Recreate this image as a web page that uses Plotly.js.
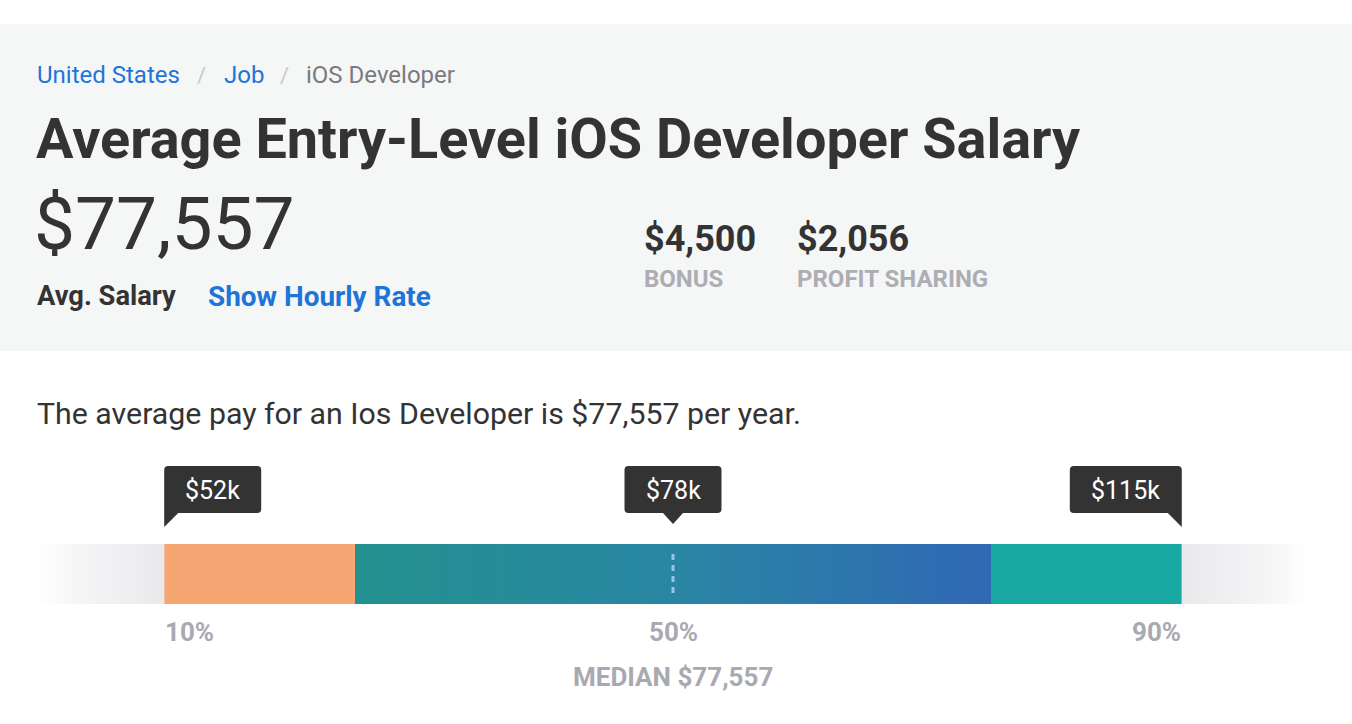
<!DOCTYPE html>
<html>
<head>
<meta charset="utf-8">
<script src="https://cdn.plot.ly/plotly-3.0.1.min.js"></script>
<style>
  html, body { margin: 0; padding: 0; background: #ffffff; }
  #chart { width: 1352px; height: 724px; }
</style>
</head>
<body>
<div id="chart"></div>
<script>
// ---------------- DATA ----------------
const breadcrumb = ['United States', 'Job', 'iOS Developer'];
const jobTitle = 'Average Entry-Level iOS Developer Salary';
const avgSalary = '$77,557';
const avgSalaryLabel = 'Avg. Salary';
const hourlyLink = 'Show Hourly Rate';
const payValues = ['$4,500', '$2,056'];
const payLabels = ['BONUS', 'PROFIT SHARING'];
const summary = 'The average pay for an Ios Developer is $77,557 per year.';

const percentiles = [10, 50, 90];
const percentileLabels = ['10%', '50%', '90%'];
const salaryLabels = ['$52k', '$78k', '$115k'];
const segmentStart = [10, 25, 75];
const segmentEnd = [25, 75, 90];
const fadeLeft = [0, 10];
const fadeRight = [90, 100];
const medianLabel = 'MEDIAN $77,557';

// ---------------- LAYOUT HELPERS ----------------
const W = 1352, H = 724;
const px = v => v / W;               // pixel -> paper x
const FONT = 'Roboto, "Open Sans", sans-serif';
const DARK = '#333333';
const GREY = '#a9a9b1';
const BLUE = '#1f74d8';

function rect(x0, x1) { return { x: [x0, x1, x1, x0, x0], y: [0, 0, 1, 1, 0] }; }

const traces = [];

// left fade
(function () {
  const r = rect(fadeLeft[0], fadeLeft[1]);
  traces.push({
    type: 'scatter', mode: 'lines', x: r.x, y: r.y, xaxis: 'x', yaxis: 'y2',
    fill: 'toself', line: { width: 0 }, hoverinfo: 'skip', showlegend: false,
    fillgradient: { type: 'horizontal', colorscale: [[0, 'rgba(236,236,239,0)'], [0.35, 'rgba(236,236,239,0.55)'], [1, 'rgba(233,233,236,1)']] }
  });
})();
// right fade
(function () {
  const r = rect(fadeRight[0], fadeRight[1]);
  traces.push({
    type: 'scatter', mode: 'lines', x: r.x, y: r.y, xaxis: 'x', yaxis: 'y2',
    fill: 'toself', line: { width: 0 }, hoverinfo: 'skip', showlegend: false,
    fillgradient: { type: 'horizontal', colorscale: [[0, 'rgba(233,233,236,1)'], [0.65, 'rgba(236,236,239,0.55)'], [1, 'rgba(236,236,239,0)']] }
  });
})();
// flat segments (10-25, 75-90)
const flatIdx = [0, 2];
traces.push({
  type: 'bar', orientation: 'h', xaxis: 'x', yaxis: 'y2',
  y: flatIdx.map(() => 0.5),
  base: flatIdx.map(i => segmentStart[i]),
  x: flatIdx.map(i => segmentEnd[i] - segmentStart[i]),
  width: 1,
  marker: { color: ['#f6a673', '#1aa9a2'], line: { width: 0 } },
  hoverinfo: 'skip', showlegend: false
});
// middle gradient segment (25-75)
(function () {
  const r = rect(segmentStart[1], segmentEnd[1]);
  traces.push({
    type: 'scatter', mode: 'lines', x: r.x, y: r.y, xaxis: 'x', yaxis: 'y2',
    fill: 'toself', line: { width: 0 }, hoverinfo: 'skip', showlegend: false,
    fillgradient: { type: 'horizontal', colorscale: [[0, '#23918f'], [0.5, '#2986a3'], [1, '#3068b4']] }
  });
})();

// ---------------- SHAPES ----------------
const shapes = [];
// header background
shapes.push({ type: 'rect', xref: 'paper', yref: 'y', x0: 0, x1: 1, y0: 24, y1: 351,
  fillcolor: '#f5f6f6', line: { width: 0 }, layer: 'below' });
// median dashed line
shapes.push({ type: 'line', xref: 'x', yref: 'y2', x0: percentiles[1], x1: percentiles[1], y0: 0.183, y1: 0.85,
  line: { color: '#93c5e8', width: 3, dash: '6px,5px' } });

// tooltip bubbles (pixel paths relative to percentile anchors)
const bubblePaths = [
  'M 4,466 H 93 Q 97,466 97,470 V 509 Q 97,513 93,513 H 14 L 0,527 V 470 Q 0,466 4,466 Z',
  'M -44.5,466 H 44.5 Q 48.5,466 48.5,470 V 509 Q 48.5,513 44.5,513 H 10 L 0,524 L -10,513 H -44.5 Q -48.5,513 -48.5,509 V 470 Q -48.5,466 -44.5,466 Z',
  'M -108,466 H -4 Q 0,466 0,470 V 527 L -14,513 H -108 Q -112,513 -112,509 V 470 Q -112,466 -108,466 Z'
];
const bubbleCenter = [48.5, 0, -56];
percentiles.forEach((p, i) => {
  shapes.push({ type: 'path', xref: 'x', yref: 'y', xsizemode: 'pixel', xanchor: p,
    path: bubblePaths[i], fillcolor: '#333333', line: { width: 0 } });
});

// ---------------- ANNOTATIONS ----------------
const ann = [];
function txt(o) {
  return Object.assign({ showarrow: false, borderpad: 0, yref: 'y', yanchor: 'middle', xanchor: 'left' }, o);
}
// breadcrumb
const crumbX = [36, 223, 305];
const crumbColor = [BLUE, BLUE, '#7a7a7f'];
breadcrumb.forEach((b, i) => {
  ann.push(txt({ xref: 'paper', x: px(crumbX[i]), y: 75, text: b,
    font: { family: FONT, size: 24, color: crumbColor[i] } }));
});
[201, 284].forEach(x => ann.push(txt({ xref: 'paper', x: px(x), xanchor: 'center', y: 75, text: '/',
  font: { family: FONT, size: 22, color: '#c9c9cd' } })));
// title
ann.push(txt({ xref: 'paper', x: px(35), y: 139, text: jobTitle,
  font: { family: FONT, size: 55.8, color: DARK, weight: 700 } }));
// big salary
ann.push(txt({ xref: 'paper', x: px(33), y: 224, text: avgSalary,
  font: { family: FONT, size: 73, color: DARK, weight: 400 } }));
ann.push(txt({ xref: 'paper', x: px(36), y: 296, text: avgSalaryLabel,
  font: { family: FONT, size: 27.3, color: DARK, weight: 700 } }));
ann.push(txt({ xref: 'paper', x: px(207), y: 296, text: hourlyLink,
  font: { family: FONT, size: 27.9, color: BLUE, weight: 700 } }));
// bonus / profit sharing
const payX = [643, 796];
payValues.forEach((v, i) => {
  ann.push(txt({ xref: 'paper', x: px(payX[i]), y: 239, text: v,
    font: { family: FONT, size: 36, color: DARK, weight: 700 } }));
  ann.push(txt({ xref: 'paper', x: px(payX[i]), y: 279, text: payLabels[i],
    font: { family: FONT, size: 24, color: '#aeadb3', weight: 700 } }));
});
// summary sentence
ann.push(txt({ xref: 'paper', x: px(36), y: 413, text: summary,
  font: { family: FONT, size: 30.3, color: DARK, weight: 400 } }));
// tooltip labels
percentiles.forEach((p, i) => {
  ann.push(txt({ xref: 'x', x: p, xanchor: 'center', xshift: bubbleCenter[i], y: 490, text: salaryLabels[i],
    font: { family: FONT, size: 25, color: '#ffffff' } }));
});
// percentile labels
const pAnchor = ['left', 'center', 'right'];
percentiles.forEach((p, i) => {
  ann.push(txt({ xref: 'x', x: p, xanchor: pAnchor[i], y: 632, text: percentileLabels[i],
    font: { family: FONT, size: 26, color: GREY, weight: 700 } }));
});
ann.push(txt({ xref: 'x', x: percentiles[1], xanchor: 'center', y: 677, text: medianLabel,
  font: { family: FONT, size: 26, color: GREY, weight: 700 } }));

const layout = {
  width: W, height: H,
  margin: { l: 0, r: 0, t: 0, b: 0, pad: 0 },
  paper_bgcolor: '#ffffff', plot_bgcolor: 'rgba(0,0,0,0)',
  showlegend: false, barmode: 'overlay',
  xaxis: { domain: [37 / W, 1309 / W], range: [0, 100], visible: false, fixedrange: true },
  yaxis: { domain: [0, 1], range: [H, 0], visible: false, fixedrange: true },
  yaxis2: { domain: [(H - 604) / H, (H - 544) / H], range: [0, 1], visible: false, fixedrange: true, anchor: 'x' },
  shapes: shapes,
  annotations: ann,
  hovermode: false
};

Plotly.newPlot('chart', traces, layout, { staticPlot: true, displayModeBar: false });
</script>
</body>
</html>
